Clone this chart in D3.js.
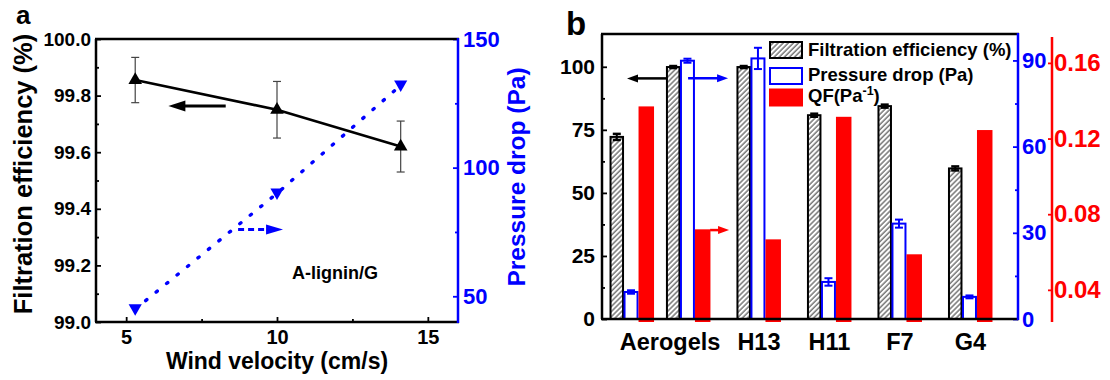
<!DOCTYPE html>
<html>
<head>
<meta charset="utf-8">
<script src="https://d3js.org/d3.v7.min.js"></script>
<style>
body { margin: 0; background: #fff; }
svg text { font-family: Arial, "Liberation Sans", sans-serif; font-weight: bold; }
</style>
</head>
<body>
<svg id="chart" width="1110" height="380"></svg>
<script>
// ---- panel a data ----
var windVelocity = [5.3, 10, 14.1];
var efficiencyA = [99.855, 99.75, 99.62];
var efficiencyErrA = [0.08, 0.10, 0.09];
var pressureA = [45, 90, 132];
var xTicksA = [5, 10, 15];
var xMinorA = [7.5, 12.5];
var yTicksA = [99.0, 99.2, 99.4, 99.6, 99.8, 100.0];
var yMinorA = [99.1, 99.3, 99.5, 99.7, 99.9];
var y2TicksA = [50, 100, 150];
var y2MinorA = [75, 125];

// ---- panel b data ----
var samples = ["Aerogel-1", "Aerogel-2", "H13", "H11", "F7", "G4"];
var samplePos = [1, 1.8, 2.8, 3.8, 4.8, 5.8];
var categoryLabels = ["Aerogels", "H13", "H11", "F7", "G4"];
var categoryPos = [1.54, 2.8, 3.8, 4.8, 5.8];
var efficiencyB = [72.2, 99.9, 99.9, 80.8, 84.4, 59.7];
var efficiencyErrB = [1.2, 0.4, 0.4, 0.6, 0.6, 0.8];
var pressureB = [9.4, 89.9, 90.7, 12.9, 33.2, 7.7];
var pressureErrB = [0.6, 0.7, 3.7, 1.3, 1.4, 0.5];
var qfB = [0.137, 0.072, 0.0667, 0.1315, 0.0588, 0.1245];
var yTicksB = [0, 25, 50, 75, 100];
var yMinorB = [12.5, 37.5, 62.5, 87.5];
var y2TicksB = [0, 30, 60, 90];
var y2MinorB = [15, 45, 75];
var y3TicksB = [0.04, 0.08, 0.12, 0.16];
var legendLabels = ["Filtration efficiency (%)", "Pressure drop (Pa)", "QF(Pa"];

var svg = d3.select("#chart");
var BLUE = "#0000ff", RED = "#ff0000";

// hatch pattern
var defs = svg.append("defs");
var pat = defs.append("pattern").attr("id", "hatch")
  .attr("patternUnits", "userSpaceOnUse").attr("width", 3.6).attr("height", 3.6)
  .attr("patternTransform", "rotate(45)");
pat.append("rect").attr("width", 3.6).attr("height", 3.6).attr("fill", "#fff");
pat.append("line").attr("x1", 1).attr("y1", 0).attr("x2", 1).attr("y2", 3.6)
  .attr("stroke", "#444").attr("stroke-width", 1.1);

function arrowHead(g, x, y, dir, color, len, half) {
  g.append("path")
    .attr("d", "M" + x + "," + y + "L" + (x - dir * len) + "," + (y - half) +
      "L" + (x - dir * len) + "," + (y + half) + "Z")
    .attr("fill", color);
}

function styleAxis(g, color, size) {
  g.select(".domain").remove();
  g.selectAll("line").attr("stroke", color).attr("stroke-width", 1.8);
  g.selectAll("text").attr("fill", color).style("font-size", size + "px")
    .style("font-family", "Arial, 'Liberation Sans', sans-serif").style("font-weight", "bold");
}

// ================= panel a =================
var xA = d3.scaleLinear().domain([4, 16]).range([96, 458]);
var yA = d3.scaleLinear().domain([99, 100]).range([322, 39]);
var y2A = d3.scaleLinear().domain([40, 150]).range([322, 39]);
var ga = svg.append("g");

ga.append("g").attr("transform", "translate(0,322)")
  .call(d3.axisBottom(xA).tickValues(xTicksA).tickFormat(d3.format("d")).tickSizeInner(-5).tickSizeOuter(0).tickPadding(8))
  .call(styleAxis, "#000", 20);
ga.append("g").attr("transform", "translate(0,322)")
  .call(d3.axisBottom(xA).tickValues(xMinorA).tickFormat("").tickSizeInner(-3).tickSizeOuter(0))
  .call(styleAxis, "#000", 20);
ga.append("g").attr("transform", "translate(96,0)")
  .call(d3.axisLeft(yA).tickValues(yTicksA).tickFormat(d3.format(".1f")).tickSizeInner(-5).tickSizeOuter(0).tickPadding(5))
  .call(styleAxis, "#000", 19);
ga.append("g").attr("transform", "translate(96,0)")
  .call(d3.axisLeft(yA).tickValues(yMinorA).tickFormat("").tickSizeInner(-3).tickSizeOuter(0))
  .call(styleAxis, "#000", 19);
ga.append("g").attr("transform", "translate(458,0)")
  .call(d3.axisRight(y2A).tickValues(y2TicksA).tickFormat(d3.format("d")).tickSizeInner(-5).tickSizeOuter(0).tickPadding(5))
  .call(styleAxis, BLUE, 22);
ga.append("g").attr("transform", "translate(458,0)")
  .call(d3.axisRight(y2A).tickValues(y2MinorA).tickFormat("").tickSizeInner(-3).tickSizeOuter(0))
  .call(styleAxis, BLUE, 22);

// frame
ga.append("line").attr("x1", 95).attr("x2", 459).attr("y1", 39).attr("y2", 39).attr("stroke", "#000").attr("stroke-width", 2.5);
ga.append("line").attr("x1", 95).attr("x2", 459).attr("y1", 322).attr("y2", 322).attr("stroke", "#000").attr("stroke-width", 2.5);
ga.append("line").attr("x1", 96).attr("x2", 96).attr("y1", 39).attr("y2", 322).attr("stroke", "#000").attr("stroke-width", 2.5);
ga.append("line").attr("x1", 458).attr("x2", 458).attr("y1", 38).attr("y2", 323).attr("stroke", BLUE).attr("stroke-width", 2.5);

// blue dotted pressure line
var ptsP = windVelocity.map(function (v, i) { return [xA(v), y2A(pressureA[i])]; });
ga.append("path").attr("d", d3.line()(ptsP)).attr("fill", "none")
  .attr("stroke", BLUE).attr("stroke-width", 3.4).attr("stroke-dasharray", "1.5,12").attr("stroke-linecap", "round");
ga.selectAll(".tdown").data(ptsP).enter().append("path")
  .attr("d", d3.symbol(d3.symbolTriangle).size(75))
  .attr("transform", function (d) { return "translate(" + d[0] + "," + (d[1] - 1) + ") rotate(180)"; })
  .attr("fill", BLUE);

// efficiency line with error bars
var ptsE = windVelocity.map(function (v, i) { return [xA(v), yA(efficiencyA[i])]; });
windVelocity.forEach(function (v, i) {
  var x = xA(v), y1 = yA(efficiencyA[i] + efficiencyErrA[i]), y2 = yA(efficiencyA[i] - efficiencyErrA[i]);
  ga.append("line").attr("x1", x).attr("x2", x).attr("y1", y1).attr("y2", y2).attr("stroke", "#444").attr("stroke-width", 1.2);
  [y1, y2].forEach(function (yy) {
    ga.append("line").attr("x1", x - 4).attr("x2", x + 4).attr("y1", yy).attr("y2", yy).attr("stroke", "#444").attr("stroke-width", 1.2);
  });
});
ga.append("path").attr("d", d3.line()(ptsE)).attr("fill", "none").attr("stroke", "#000").attr("stroke-width", 2.6);
ga.selectAll(".tup").data(ptsE).enter().append("path")
  .attr("d", d3.symbol(d3.symbolTriangle).size(80))
  .attr("transform", function (d) { return "translate(" + d[0] + "," + d[1] + ")"; })
  .attr("fill", "#000");

// arrows
var aBy = yA(99.763);
ga.append("line").attr("x1", xA(8.3)).attr("x2", xA(6.4) + 14).attr("y1", aBy).attr("y2", aBy).attr("stroke", "#000").attr("stroke-width", 3);
arrowHead(ga, xA(6.4), aBy, -1, "#000", 17, 5.5);
var aPy = y2A(76);
ga.append("line").attr("x1", xA(8.71)).attr("x2", xA(10.2) - 16).attr("y1", aPy).attr("y2", aPy).attr("stroke", BLUE).attr("stroke-width", 3).attr("stroke-dasharray", "6,4");
arrowHead(ga, xA(10.2), aPy, 1, BLUE, 17, 5);

ga.append("text").attr("x", xA(10.5)).attr("y", yA(99.152)).style("font-size", "18px").text("A-lignin/G");

// titles
ga.append("text").attr("x", 277).attr("y", 369).attr("text-anchor", "middle").style("font-size", "23px").text("Wind velocity (cm/s)");
ga.append("text").attr("transform", "translate(31.5,174) rotate(-90)").attr("text-anchor", "middle").style("font-size", "25.5px").text("Filtration efficiency (%)");
ga.append("text").attr("transform", "translate(525,177) rotate(-90)").attr("text-anchor", "middle").attr("fill", BLUE).style("font-size", "24.5px").text("Pressure drop (Pa)");
ga.append("text").attr("x", 16).attr("y", 23.5).style("font-size", "26px").text("a");

// ================= panel b =================
var xB = d3.scaleLinear().domain([0.574, 6.474]).range([602, 1018]);
var yB = d3.scaleLinear().domain([0, 113]).range([319, 34]);
var y2B = d3.scaleLinear().domain([0, 99.2]).range([319, 34]);
var y3B = d3.scaleLinear().domain([0.023, 0.1737]).range([322, 37]);
var gb = svg.append("g");

gb.append("g").attr("transform", "translate(602,0)")
  .call(d3.axisLeft(yB).tickValues(yTicksB).tickFormat(d3.format("d")).tickSizeInner(-5).tickSizeOuter(0).tickPadding(7))
  .call(styleAxis, "#000", 21);
gb.append("g").attr("transform", "translate(602,0)")
  .call(d3.axisLeft(yB).tickValues(yMinorB).tickFormat("").tickSizeInner(-3).tickSizeOuter(0))
  .call(styleAxis, "#000", 21);
gb.append("g").attr("transform", "translate(1018,0)")
  .call(d3.axisRight(y2B).tickValues(y2TicksB).tickFormat(d3.format("d")).tickSizeInner(-5).tickSizeOuter(0).tickPadding(4))
  .call(styleAxis, BLUE, 22);
gb.append("g").attr("transform", "translate(1018,0)")
  .call(d3.axisRight(y2B).tickValues(y2MinorB).tickFormat("").tickSizeInner(-3).tickSizeOuter(0))
  .call(styleAxis, BLUE, 22);
gb.append("g").attr("transform", "translate(1052,0)")
  .call(d3.axisRight(y3B).tickValues(y3TicksB).tickFormat(d3.format(".2f")).tickSizeInner(-4).tickSizeOuter(0).tickPadding(2))
  .call(styleAxis, RED, 24);
gb.append("line").attr("x1", 1052).attr("x2", 1052).attr("y1", 37).attr("y2", 322).attr("stroke", RED).attr("stroke-width", 2.5);

// bars
samplePos.forEach(function (p, i) {
  var cx = xB(p);
  // efficiency (hatched)
  var yt = yB(efficiencyB[i]);
  gb.append("rect").attr("x", cx - 21.5).attr("y", yt).attr("width", 12.5).attr("height", yB(0) - yt)
    .attr("fill", "url(#hatch)").attr("stroke", "#000").attr("stroke-width", 2);
  // pressure (blue outline)
  var yp = y2B(pressureB[i]);
  gb.append("rect").attr("x", cx - 7.5).attr("y", yp).attr("width", 13).attr("height", y2B(0) - yp)
    .attr("fill", "#fff").attr("stroke", BLUE).attr("stroke-width", 2);
  // QF (red)
  var yq = y3B(qfB[i]);
  gb.append("rect").attr("x", cx + 6.5).attr("y", yq).attr("width", 15.5).attr("height", y3B.range()[0] - yq)
    .attr("fill", RED);
});

// error bars
samplePos.forEach(function (p, i) {
  var cx = xB(p) - 15.25;
  var e1 = yB(efficiencyB[i] + efficiencyErrB[i]), e2 = yB(efficiencyB[i] - efficiencyErrB[i]);
  gb.append("line").attr("x1", cx).attr("x2", cx).attr("y1", e1).attr("y2", e2).attr("stroke", "#000").attr("stroke-width", 2);
  [e1, e2].forEach(function (yy) {
    gb.append("line").attr("x1", cx - 4).attr("x2", cx + 4).attr("y1", yy).attr("y2", yy).attr("stroke", "#000").attr("stroke-width", 2.5);
  });
  var bx = xB(p) - 1;
  var p1 = y2B(pressureB[i] + pressureErrB[i]), p2 = y2B(pressureB[i] - pressureErrB[i]);
  gb.append("line").attr("x1", bx).attr("x2", bx).attr("y1", p1).attr("y2", p2).attr("stroke", BLUE).attr("stroke-width", 2);
  [p1, p2].forEach(function (yy) {
    gb.append("line").attr("x1", bx - 4).attr("x2", bx + 4).attr("y1", yy).attr("y2", yy).attr("stroke", BLUE).attr("stroke-width", 2);
  });
});

// frame
gb.append("line").attr("x1", 601).attr("x2", 1019).attr("y1", 34).attr("y2", 34).attr("stroke", "#000").attr("stroke-width", 2.5);
gb.append("line").attr("x1", 601).attr("x2", 1019).attr("y1", 319).attr("y2", 319).attr("stroke", "#000").attr("stroke-width", 2.5);
gb.append("line").attr("x1", 602).attr("x2", 602).attr("y1", 34).attr("y2", 319).attr("stroke", "#000").attr("stroke-width", 2.5);
gb.append("line").attr("x1", 1018).attr("x2", 1018).attr("y1", 33).attr("y2", 320).attr("stroke", BLUE).attr("stroke-width", 2.5);

// arrows
var bArrY = yB(95.4);
gb.append("line").attr("x1", xB(1.492)).attr("x2", xB(0.929) + 8).attr("y1", bArrY).attr("y2", bArrY).attr("stroke", "#000").attr("stroke-width", 2.5);
arrowHead(gb, xB(0.929), bArrY, -1, "#000", 11, 4);
var pArrY = y2B(83.8);
gb.append("line").attr("x1", xB(1.795)).attr("x2", xB(2.362) - 8).attr("y1", pArrY).attr("y2", pArrY).attr("stroke", BLUE).attr("stroke-width", 2.5);
arrowHead(gb, xB(2.362), pArrY, 1, BLUE, 11, 4);
var qArrY = y3B(0.0716);
gb.append("line").attr("x1", xB(2.107)).attr("x2", xB(2.376) - 8).attr("y1", qArrY).attr("y2", qArrY).attr("stroke", RED).attr("stroke-width", 2.5);
arrowHead(gb, xB(2.376), qArrY, 1, RED, 11, 4);

// category labels
gb.selectAll(".cat").data(categoryLabels).enter().append("text")
  .attr("x", function (d, i) { return xB(categoryPos[i]); }).attr("y", 350)
  .attr("text-anchor", "middle").style("font-size", "23.5px").text(function (d) { return d; });

// legend
var lg = gb.append("g");
lg.append("rect").attr("x", 770).attr("y", 42).attr("width", 32).attr("height", 16).attr("fill", "url(#hatch)").attr("stroke", "#000").attr("stroke-width", 2);
lg.append("rect").attr("x", 770).attr("y", 68).attr("width", 32).attr("height", 16).attr("fill", "#fff").attr("stroke", BLUE).attr("stroke-width", 2);
lg.append("rect").attr("x", 769).attr("y", 88.5).attr("width", 34).attr("height", 18).attr("fill", RED);
lg.append("text").attr("x", 808).attr("y", 55.5).style("font-size", "18.5px").text(legendLabels[0]);
lg.append("text").attr("x", 808).attr("y", 81).style("font-size", "18.5px").text(legendLabels[1]);
var qt = lg.append("text").attr("x", 808).attr("y", 102).style("font-size", "18.5px");
qt.append("tspan").text(legendLabels[2]);
qt.append("tspan").attr("dy", -7).style("font-size", "12.5px").text("-1");
qt.append("tspan").attr("dy", 7).text(")");

gb.append("text").attr("x", 566).attr("y", 35).style("font-size", "33px").text("b");
</script>
</body>
</html>
